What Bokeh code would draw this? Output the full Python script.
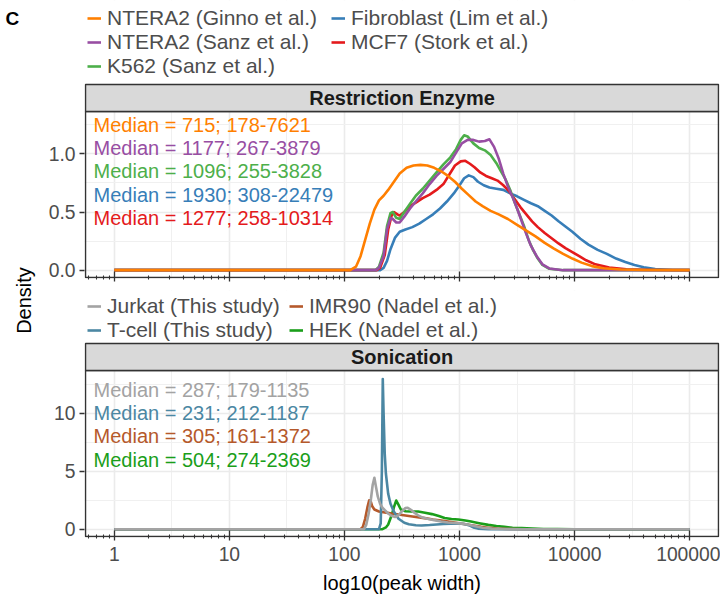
import numpy as np
from bokeh.plotting import figure
from bokeh.models import (Range1d, FixedTicker, Legend, LegendItem, PrintfTickFormatter,
                          CustomJSTickFormatter, ColumnDataSource)
from bokeh.layouts import row, column
from bokeh.core.properties import value
from bokeh.embed import file_html
from bokeh.resources import INLINE

FONT = "Liberation Sans"

# ------------------------------------------------------------------ data
# Restriction enzyme panel (x = log10(peak width), y = density)
ginno_lx = [0, 2.05, 2.10, 2.14, 2.18, 2.22, 2.26, 2.30, 2.34, 2.38, 2.43, 2.48, 2.54, 2.60, 2.66, 2.72, 2.78, 2.84, 2.90, 2.96,
            3.02, 3.08, 3.14, 3.20, 3.27, 3.34, 3.42, 3.50, 3.58, 3.66, 3.74, 3.82, 3.90, 3.98, 4.06, 4.15, 4.25, 4.40, 4.60, 5.0]
ginno_y = [0, 0, 0.03, 0.12, 0.26, 0.40, 0.52, 0.60, 0.64, 0.69, 0.76, 0.83, 0.88, 0.90, 0.905, 0.90, 0.88, 0.85, 0.81, 0.76,
           0.70, 0.645, 0.59, 0.55, 0.51, 0.48, 0.44, 0.39, 0.34, 0.29, 0.235, 0.185, 0.14, 0.10, 0.065, 0.035, 0.017, 0.006, 0.001, 0]

sanz_lx = [0, 2.27, 2.30, 2.34, 2.37, 2.40, 2.42, 2.45, 2.48, 2.52, 2.57, 2.62, 2.68, 2.74, 2.80, 2.86, 2.92, 2.97, 3.02, 3.07,
           3.12, 3.17, 3.22, 3.26, 3.30, 3.34, 3.38, 3.42, 3.46, 3.50, 3.54, 3.58, 3.62, 3.67, 3.72, 3.78, 3.90, 5.0]
sanz_y = [0, 0, 0.02, 0.12, 0.35, 0.45, 0.44, 0.41, 0.41, 0.46, 0.53, 0.59, 0.66, 0.74, 0.81, 0.87, 0.93, 1.01, 1.09, 1.12,
          1.12, 1.105, 1.11, 1.125, 1.06, 0.96, 0.83, 0.72, 0.63, 0.53, 0.42, 0.31, 0.21, 0.12, 0.05, 0.015, 0, 0]

k562_lx = [0, 2.27, 2.30, 2.34, 2.37, 2.40, 2.42, 2.45, 2.48, 2.52, 2.57, 2.62, 2.68, 2.74, 2.80, 2.86, 2.92, 2.97, 3.01, 3.04,
           3.07, 3.12, 3.17, 3.22, 3.27, 3.32, 3.36, 3.40, 3.44, 3.48, 3.52, 3.56, 3.60, 3.64, 3.68, 3.72, 3.78, 3.90, 5.0]
k562_y = [0, 0, 0.03, 0.15, 0.38, 0.49, 0.50, 0.45, 0.44, 0.50, 0.57, 0.64, 0.70, 0.77, 0.84, 0.91, 0.97, 1.04, 1.12, 1.16,
          1.15, 1.09, 1.05, 1.03, 0.99, 0.92, 0.85, 0.78, 0.69, 0.58, 0.48, 0.38, 0.26, 0.17, 0.10, 0.045, 0.012, 0, 0]

fibro_lx = [0, 2.31, 2.34, 2.37, 2.40, 2.44, 2.48, 2.53, 2.59, 2.65, 2.71, 2.77, 2.83, 2.89, 2.95, 3.00, 3.04, 3.08, 3.12, 3.16,
            3.21, 3.26, 3.32, 3.38, 3.44, 3.50, 3.56, 3.62, 3.68, 3.74, 3.80, 3.86, 3.92, 3.98, 4.05, 4.12, 4.20, 4.28, 4.36, 4.44,
            4.52, 4.60, 4.70, 4.85, 5.0]
fibro_y = [0, 0, 0.02, 0.08, 0.18, 0.28, 0.33, 0.35, 0.37, 0.40, 0.44, 0.48, 0.53, 0.59, 0.66, 0.73, 0.79, 0.815, 0.80, 0.76,
           0.73, 0.71, 0.70, 0.69, 0.66, 0.635, 0.605, 0.575, 0.55, 0.51, 0.47, 0.42, 0.375, 0.33, 0.27, 0.22, 0.175, 0.14, 0.10, 0.07,
           0.045, 0.025, 0.01, 0.002, 0]

mcf7_lx = [0, 2.28, 2.31, 2.35, 2.38, 2.41, 2.43, 2.46, 2.48, 2.52, 2.57, 2.62, 2.68, 2.74, 2.80, 2.86, 2.91, 2.96, 3.01, 3.05,
           3.09, 3.13, 3.18, 3.23, 3.28, 3.33, 3.38, 3.43, 3.48, 3.53, 3.58, 3.63, 3.68, 3.74, 3.80, 3.86, 3.92, 3.98, 4.04, 4.10,
           4.18, 4.30, 4.45, 4.70, 5.0]
mcf7_y = [0, 0, 0.02, 0.13, 0.35, 0.47, 0.50, 0.48, 0.47, 0.50, 0.55, 0.58, 0.62, 0.65, 0.69, 0.74, 0.82, 0.90, 0.935, 0.94,
          0.915, 0.885, 0.84, 0.81, 0.79, 0.77, 0.73, 0.68, 0.61, 0.54, 0.48, 0.42, 0.37, 0.32, 0.275, 0.23, 0.19, 0.155, 0.12, 0.085,
          0.05, 0.022, 0.007, 0.001, 0]

# Sonication panel
jurkat_lx = [0, 2.17, 2.19, 2.21, 2.23, 2.245, 2.26, 2.275, 2.29, 2.31, 2.33, 2.355, 2.38, 2.41, 2.44, 2.47, 2.50, 2.53, 2.55, 2.58,
             2.61, 2.64, 2.67, 2.72, 2.78, 2.84, 2.90, 2.96, 3.02, 3.08, 3.14, 3.20, 3.28, 3.40, 3.60, 5.0]
jurkat_y = [0, 0, 0.4, 1.33, 2.6, 3.8, 4.43, 3.6, 2.8, 2.19, 1.85, 1.6, 1.35, 1.15, 1.05, 1.2, 1.55, 1.82, 1.85, 1.65,
            1.4, 1.2, 1.03, 0.9, 0.78, 0.66, 0.58, 0.53, 0.48, 0.38, 0.25, 0.13, 0.05, 0.01, 0, 0]

tcell_lx = [0, 2.30, 2.315, 2.325, 2.333, 2.34, 2.35, 2.36, 2.38, 2.40, 2.43, 2.47, 2.52, 2.56, 2.62, 2.67, 2.74, 2.80, 2.86, 2.92,
            2.98, 3.04, 3.08, 3.12, 3.16, 3.25, 5.0]
tcell_y = [0, 0, 0.5, 5.0, 12.95, 10.0, 6.5, 4.8, 3.05, 2.2, 1.5, 0.9, 0.55, 0.42, 0.34, 0.32, 0.36, 0.41, 0.45, 0.48,
           0.50, 0.45, 0.35, 0.15, 0.05, 0, 0]

imr90_lx = [0, 2.14, 2.16, 2.18, 2.20, 2.215, 2.225, 2.24, 2.26, 2.30, 2.35, 2.41, 2.47, 2.53, 2.59, 2.65, 2.71, 2.77, 2.84, 2.90,
            2.97, 3.05, 3.12, 3.19, 3.26, 3.33, 3.42, 3.55, 5.0]
imr90_y = [0, 0, 0.2, 0.9, 1.9, 2.5, 2.5, 2.0, 1.7, 1.53, 1.45, 1.35, 1.27, 1.18, 1.1, 1.02, 0.93, 0.83, 0.74, 0.66,
           0.55, 0.43, 0.31, 0.2, 0.11, 0.06, 0.02, 0, 0]

hek_lx = [0, 2.33, 2.36, 2.38, 2.41, 2.43, 2.45, 2.47, 2.49, 2.53, 2.58, 2.64, 2.70, 2.76, 2.82, 2.87, 2.93, 2.99, 3.05, 3.10,
          3.17, 3.25, 3.32, 3.39, 3.46, 3.54, 3.63, 3.73, 3.85, 4.0, 5.0]
hek_y = [0, 0, 0.15, 0.4, 1.2, 1.9, 2.47, 2.1, 1.7, 1.55, 1.53, 1.52, 1.42, 1.3, 1.13, 0.96, 0.88, 0.83, 0.75, 0.66,
         0.52, 0.37, 0.27, 0.2, 0.13, 0.09, 0.05, 0.02, 0.005, 0, 0]

re_names = ["NTERA2 (Ginno et al.)", "NTERA2 (Sanz et al.)", "K562 (Sanz et al.)",
            "Fibroblast (Lim et al.)", "MCF7 (Stork et al.)"]
re_colors = ["#FF7F00", "#984EA3", "#4DAF4A", "#377EB8", "#E41A1C"]
re_medians = ["Median = 715; 178-7621", "Median = 1177; 267-3879", "Median = 1096; 255-3828",
              "Median = 1930; 308-22479", "Median = 1277; 258-10314"]
re_series = [(ginno_lx, ginno_y), (sanz_lx, sanz_y), (k562_lx, k562_y), (fibro_lx, fibro_y), (mcf7_lx, mcf7_y)]
re_draw_order = [3, 4, 2, 1, 0]

so_names = ["Jurkat (This study)", "T-cell (This study)", "IMR90 (Nadel et al.)", "HEK (Nadel et al.)"]
so_colors = ["#A3A3A3", "#4B87A3", "#B5592B", "#1A9E1A"]
so_medians = ["Median = 287; 179-1135", "Median = 231; 212-1187",
              "Median = 305; 161-1372", "Median = 504; 274-2369"]
so_series = [(jurkat_lx, jurkat_y), (tcell_lx, tcell_y), (imr90_lx, imr90_y), (hek_lx, hek_y)]
so_draw_order = [3, 2, 1, 0]

# ------------------------------------------------------------------ layout constants
LEFT_W = 45
W = 720 - LEFT_W
PX_PER_DEC = 636 / 5.5
LX_LO, LX_HI = -0.25, 5.25
X_LO, X_HI = 10 ** LX_LO, 10 ** LX_HI                      # panel limits
FX_LO, FX_HI = 10 ** (LX_LO - 1 / PX_PER_DEC), 10 ** (LX_HI + 1 / PX_PER_DEC)   # frame limits (1px wider)
STRIP_PX, PANEL_PX = 27, 166
LINE_W = 2.6
BORDER = "#333333"
decades = [10.0 ** k for k in range(6)]
half_decades = [10.0 ** (k + 0.5) for k in range(5)]
minor_ticks = [m * 10.0 ** k for k in range(-1, 6) for m in range(2, 10) if X_LO <= m * 10.0 ** k <= X_HI]


def make_panel(height, mb_bottom, above_px, ylo, yhi, yticks, yminor, yfmt, strip_text,
               names, colors, medians, series, order, text_y0, text_dy, legend_rows,
               legend_bottom_px, label_width, show_x_labels):
    upp = (yhi - ylo) / PANEL_PX
    strip_top = yhi + STRIP_PX * upp
    f_lo = ylo - upp
    f_hi = yhi + (STRIP_PX + above_px) * upp
    p = figure(width=W, height=height, x_axis_type="log",
               x_range=Range1d(FX_LO, FX_HI), y_range=Range1d(f_lo, f_hi),
               toolbar_location=None, output_backend="svg",
               min_border_left=36, min_border_right=1, min_border_top=0, min_border_bottom=mb_bottom,
               background_fill_color="white", border_fill_color="white")
    p.outline_line_color = None

    # grids
    p.xgrid.ticker = FixedTicker(ticks=decades, minor_ticks=half_decades)
    p.ygrid.ticker = FixedTicker(ticks=yticks, minor_ticks=yminor)
    for g in (p.xgrid[0], p.ygrid[0]):
        g.grid_line_color = "#EBEBEB"
        g.grid_line_width = 1.6
        g.minor_grid_line_color = "#F0F0F0"
        g.minor_grid_line_width = 1.0

    # axes
    xa = p.xaxis[0]
    xa.ticker = FixedTicker(ticks=decades, minor_ticks=minor_ticks)
    xa.axis_line_color = None
    xa.major_tick_line_color = BORDER
    xa.major_tick_line_width = 1.3
    xa.major_tick_in = 7
    xa.major_tick_out = 3
    xa.minor_tick_line_color = BORDER
    xa.minor_tick_line_width = 1.1
    xa.minor_tick_in = 3
    xa.minor_tick_out = 1
    if show_x_labels:
        xa.formatter = PrintfTickFormatter(format="%d")
        xa.major_label_text_font = FONT
        xa.major_label_text_font_size = "19.3px"
        xa.major_label_text_color = "#4D4D4D"
        xa.major_label_standoff = 6
        xa.axis_label = "log10(peak width)"
        xa.axis_label_text_font = FONT
        xa.axis_label_text_font_size = "20px"
        xa.axis_label_text_font_style = "normal"
        xa.axis_label_text_color = "black"
        xa.axis_label_standoff = 8
    else:
        xa.formatter = CustomJSTickFormatter(code="return ''")
        xa.major_label_text_font_size = "0px"
        xa.major_label_standoff = 0

    ya = p.yaxis[0]
    ya.ticker = FixedTicker(ticks=yticks, minor_ticks=[])
    ya.formatter = PrintfTickFormatter(format=yfmt)
    ya.axis_line_color = None
    ya.major_tick_line_color = BORDER
    ya.major_tick_line_width = 1.3
    ya.major_tick_in = 0
    ya.major_tick_out = 5
    ya.minor_tick_line_color = None
    ya.major_label_text_font = FONT
    ya.major_label_text_font_size = "19.3px"
    ya.major_label_text_color = "#4D4D4D"
    ya.major_label_standoff = 4

    # white cover over the legend area (hides grid lines above the strip)
    p.quad(left=[FX_LO], right=[FX_HI], bottom=[strip_top], top=[f_hi],
           fill_color="white", line_color=None)

    # curves
    renderers = {}
    for i in order:
        lx, yy = series[i]
        src = ColumnDataSource(dict(x=[10.0 ** v for v in lx], y=yy))
        renderers[i] = p.line("x", "y", source=src, line_color=colors[i], line_width=LINE_W,
                              line_join="round")

    # panel border
    p.quad(left=[X_LO], right=[X_HI], bottom=[ylo], top=[yhi],
           fill_color=None, line_color=BORDER, line_width=1.5)
    # strip
    p.quad(left=[X_LO], right=[X_HI], bottom=[yhi], top=[strip_top],
           fill_color="#D9D9D9", line_color=BORDER, line_width=1.5)
    p.text(x=[10 ** 2.5], y=[(yhi + strip_top) / 2], text=[strip_text],
           text_font=value(FONT), text_font_style="bold", text_font_size="20px",
           text_align="center", text_baseline="middle", text_color="#1A1A1A")

    # median annotations
    tsrc = ColumnDataSource(dict(x=[10 ** -0.18] * len(medians),
                                 y=[text_y0 - text_dy * k for k in range(len(medians))],
                                 t=medians, c=colors))
    p.text(x="x", y="y", text="t", text_color="c", source=tsrc,
           text_font=value(FONT), text_font_size="20px", text_align="left", text_baseline="middle")

    # legend, inside the (extended) frame, above the strip
    legend = Legend(items=[LegendItem(label=names[i], renderers=[renderers[i]]) for i in range(len(names))],
                    location=(3, legend_bottom_px), orientation="vertical", nrows=legend_rows,
                    glyph_width=14, glyph_height=20, label_standoff=6, label_width=label_width,
                    label_height=20, spacing=0, padding=0, margin=0,
                    border_line_color=None, background_fill_alpha=0,
                    label_text_font=FONT, label_text_font_size="21px", label_text_color="#4D4D4D")
    p.add_layout(legend)
    return p


# top: frame from y=0 to 278 (panel 111..277, strip 84..111)
top = make_panel(height=290, mb_bottom=12, above_px=84, ylo=-0.063, yhi=1.364,
                 yticks=[0, 0.5, 1.0], yminor=[0.25, 0.75, 1.25], yfmt="%.1f",
                 strip_text="Restriction Enzyme", names=re_names, colors=re_colors,
                 medians=re_medians, series=re_series, order=re_draw_order,
                 text_y0=1.25, text_dy=0.2, legend_rows=3, legend_bottom_px=200.5,
                 label_width=224, show_x_labels=False)

# bottom: frame from y=290 to 537 (panel 370..536, strip 343..370)
bot = make_panel(height=306, mb_bottom=59, above_px=53, ylo=-0.63, yhi=13.68,
                 yticks=[0, 5, 10], yminor=[2.5, 7.5, 12.5], yfmt="%d",
                 strip_text="Sonication", names=so_names, colors=so_colors,
                 medians=so_medians, series=so_series, order=so_draw_order,
                 text_y0=12, text_dy=2, legend_rows=2, legend_bottom_px=195.3,
                 label_width=182, show_x_labels=True)

# left strip with panel tag and shared y title
H_ALL = 596
side = figure(width=LEFT_W, height=H_ALL, x_range=Range1d(0, LEFT_W), y_range=Range1d(0, H_ALL),
              x_axis_type=None, y_axis_type=None, toolbar_location=None, output_backend="svg",
              min_border=0, outline_line_color=None)
side.text(x=[5], y=[H_ALL - 18], text=["C"], text_font=value(FONT), text_font_style="bold",
          text_font_size="19px", text_align="left", text_baseline="middle", text_color="black")
side.text(x=[23.3], y=[H_ALL - 300], text=["Density"], angle=np.pi / 2, text_font=value(FONT),
          text_font_size="20px", text_align="center", text_baseline="middle", text_color="black")

layout = row(side, column(top, bot))
open("out.html", "w").write(file_html(layout, INLINE))
